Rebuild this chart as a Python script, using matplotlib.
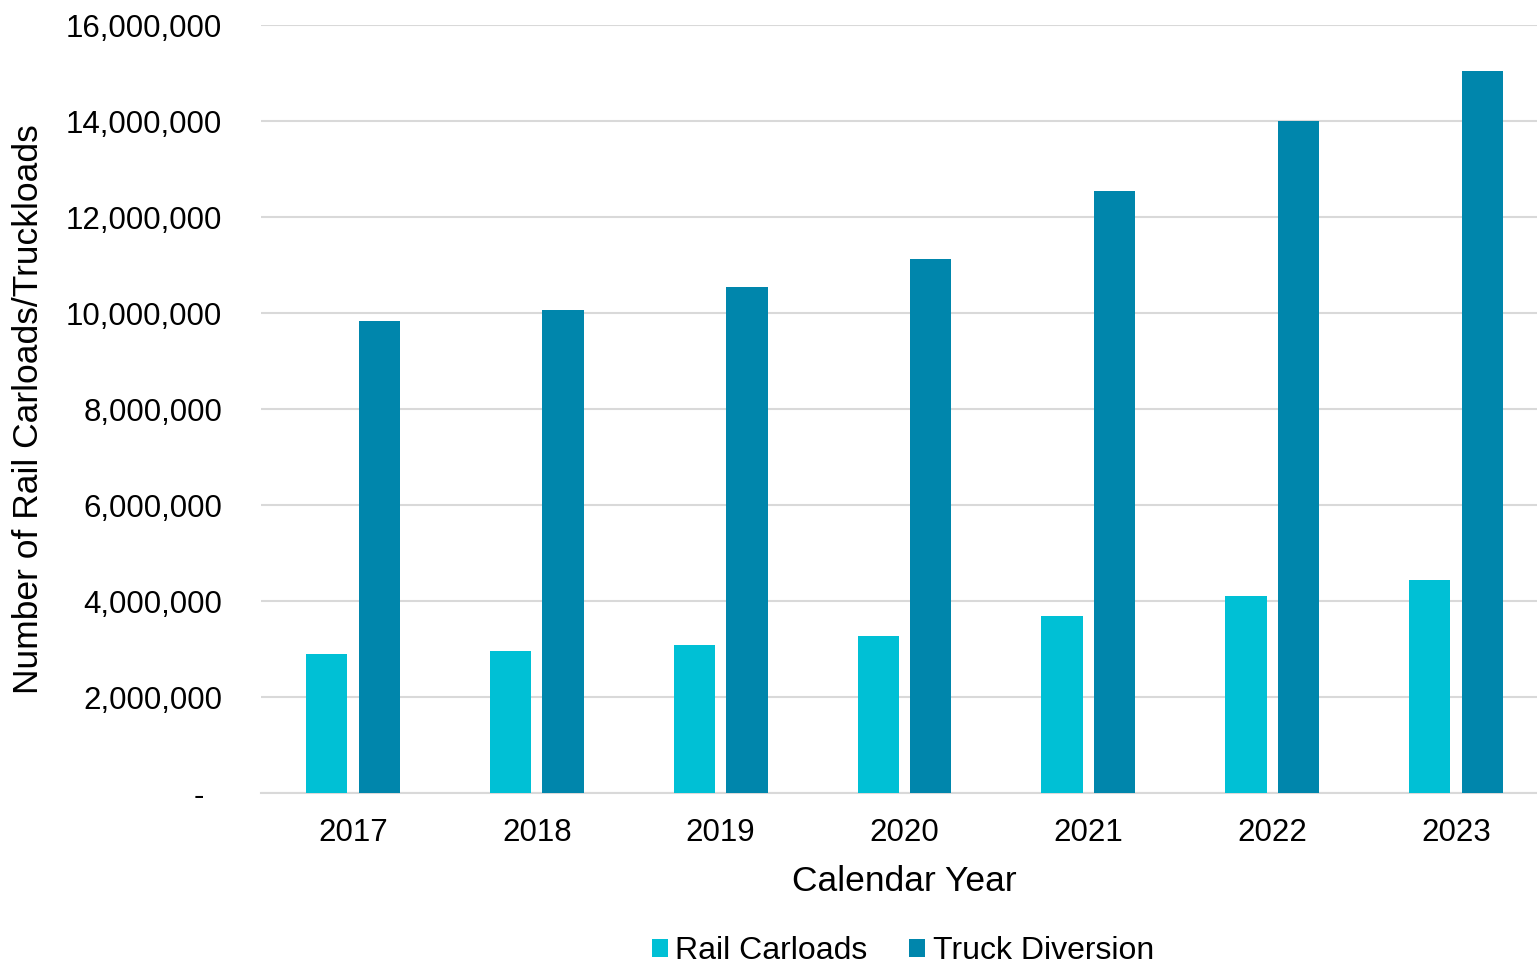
import matplotlib.pyplot as plt
import numpy as np
from matplotlib.ticker import FuncFormatter

plt.rcParams['font.family'] = ['Liberation Sans', 'DejaVu Sans']

years = ['2017', '2018', '2019', '2020', '2021', '2022', '2023']
rail_carloads = [2896000, 2960000, 3085000, 3270000, 3690000, 4105000, 4440000]
truck_diversion = [9830000, 10060000, 10540000, 11125000, 12540000, 14000000, 15050000]

rail_color = '#00C0D5'
truck_color = '#0086AC'

W, H = 1537, 963
fig = plt.figure(figsize=(W / 100, H / 100), dpi=100)
# axes runs a bit past the right edge, like the original
ax = fig.add_axes([261 / W, 1 - 793 / H, 1287 / W, 768 / H])

x = np.arange(len(years))
w = 0.224
ax.bar(x - 0.143, rail_carloads, width=w, color=rail_color, label='Rail Carloads', zorder=3)
ax.bar(x + 0.143, truck_diversion, width=w, color=truck_color, label='Truck Diversion', zorder=3)

ax.set_xlim(-0.5, len(years) - 0.5)
ax.set_ylim(0, 16000000)
ax.set_yticks(np.arange(0, 16000001, 2000000))
# accounting style: zero shown as a dash, padded like a digit
ax.yaxis.set_major_formatter(FuncFormatter(lambda v, p: '-  ' if v == 0 else f'{int(v):,}'))
ax.set_xticks(x)
ax.set_xticklabels(years)

ax.grid(axis='y', color='#D9D9D9', linewidth=1.5, zorder=0)
for s in ['top', 'right', 'left']:
    ax.spines[s].set_visible(False)
ax.spines['bottom'].set_color('#D9D9D9')
ax.spines['bottom'].set_linewidth(1.5)
ax.tick_params(axis='both', length=0, labelsize=22.5, colors='black')
ax.tick_params(axis='y', pad=28)
ax.tick_params(axis='x', pad=18)

ax.set_xlabel('Calendar Year', fontsize=25.5, labelpad=12)
ax.set_ylabel('Number of Rail Carloads/Truckloads', fontsize=25.5)
ax.yaxis.set_label_coords((45 - 261) / 1287, 0.5)

fig.legend(loc='center', bbox_to_anchor=(903 / W, 1 - 951 / H), ncol=2, fontsize=23,
           frameon=False, handlelength=0.5, handleheight=0.5, handletextpad=0.25,
           columnspacing=1.3)

fig.savefig('out.png', dpi=100)
